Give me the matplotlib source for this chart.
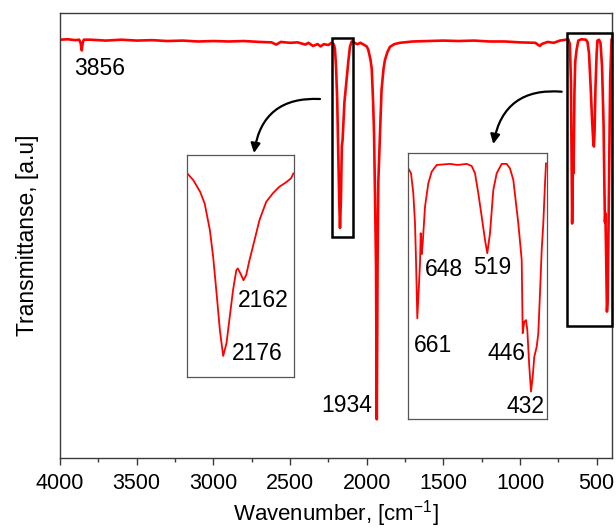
import matplotlib
matplotlib.use('Agg')
import matplotlib.pyplot as plt
from matplotlib.patches import Rectangle, FancyArrowPatch
from matplotlib.ticker import MultipleLocator

plt.rcParams['font.family'] = ['Liberation Sans', 'DejaVu Sans']
plt.rcParams['mathtext.default'] = 'regular'

# ---------------- data ----------------
wn_main = [4000, 3950, 3900, 3875, 3865, 3858, 3852, 3845, 3800, 3700, 3600, 3500,
           3400, 3300, 3200, 3100, 3000, 2900, 2800, 2700, 2620, 2590, 2560, 2500,
           2450, 2400, 2380, 2350, 2320, 2300, 2280, 2250, 2230, 2215, 2207, 2200,
           2192, 2185, 2179, 2174, 2168, 2162, 2157, 2145, 2131, 2120, 2109, 2098,
           2080, 2060, 2040, 2020, 2000, 1990, 1975, 1967, 1958, 1952, 1945, 1939,
           1934, 1929, 1924, 1913, 1903, 1890, 1881, 1865, 1848, 1820, 1783, 1700,
           1600, 1500, 1400, 1300, 1200, 1100, 1000, 900, 880, 870, 860, 820, 780,
           740, 700, 685, 675, 668, 663, 660, 657, 654, 651, 648, 645, 640, 631,
           620, 600, 570, 560, 550, 540, 530, 522, 518, 514, 508, 500, 495, 485,
           475, 465, 455, 450, 446, 443, 438, 433, 428, 420, 412, 403]
t_main = [94.0, 94.1, 93.9, 94.0, 93.2, 91.6, 93.3, 94.0, 94.0, 93.8, 94.0, 93.8,
          93.9, 93.7, 93.8, 93.6, 93.7, 93.6, 93.7, 93.5, 93.4, 92.9, 93.5, 93.3,
          93.4, 92.9, 93.3, 92.6, 93.0, 92.5, 93.0, 92.8, 93.3, 93.0, 92.0, 88.0,
          80.4, 68.0, 58.0, 51.7, 58.0, 70.0, 71.5, 80.0, 85.0, 89.0, 92.4, 93.6,
          93.3, 93.0, 93.3, 92.9, 92.5, 91.8, 89.5, 87.5, 80.0, 73.0, 58.0, 43.0,
          8.7, 43.0, 62.0, 73.0, 82.7, 87.5, 89.4, 91.2, 92.4, 93.0, 93.3, 93.6,
          93.7, 93.8, 93.7, 93.8, 93.6, 93.6, 93.4, 93.3, 92.8, 92.6, 93.0, 93.5, 93.3,
          93.8, 94.0, 94.1, 93.0, 85.0, 65.0, 52.7, 60.0, 69.0, 64.0, 72.0, 82.0, 89.0, 91.7,
          93.8, 94.1, 94.0, 93.5, 91.0, 84.0, 76.0, 71.0, 70.0, 73.0, 83.0, 91.0, 93.8, 94.0,
          93.3, 88.0, 75.0, 62.0, 53.0, 55.0, 45.0, 32.9, 36.0, 60.0, 85.0, 94.0]

wn_in1 = [2201, 2196.6, 2192, 2189, 2185.5, 2183.3, 2181, 2178.8, 2176.6, 2174.4,
          2172.2, 2170, 2167.8, 2166.8, 2165, 2163, 2161.2, 2159, 2155.6, 2152.3,
          2147.8, 2143.4, 2139, 2134.5, 2131.2, 2129.6]
t_in1 = [92.0, 88.7, 83.4, 78.2, 66.2, 54.1, 37.6, 21.1, 9.5, 15.1,
         27.1, 39.1, 48.1, 48.9, 46.6, 43.6, 45.9, 52.6, 61.7, 70.7,
         78.9, 82.7, 85.7, 87.7, 89.5, 91.7]

wn_in2 = [678.8, 673.4, 668.8, 665.4, 663.4, 660.8, 658, 655.4, 654, 652, 650,
          645.4, 638.8, 632, 622, 595.4, 580, 562, 552, 545.4, 538.8, 532, 525.4,
          520.8, 515.4, 508.8, 502, 492, 482, 475.4, 468.8, 458.8, 452, 450,
          446.8, 443.4, 440.8, 436.8, 433.4, 430, 426.8, 422, 418.8, 415.4, 412,
          408.8, 405.4, 403.4]
t_in2 = [94.1, 92.3, 84.8, 73.5, 59.8, 37.9, 48.5, 58.5, 69.8, 62.0, 66.0,
         79.7, 88.5, 92.9, 95.4, 95.8, 95.4, 95.8, 95.0, 92.3, 84.8, 76.0, 67.3,
         62.3, 69.8, 86.0, 92.3, 95.8, 95.8, 94.1, 89.8, 73.5, 59.8, 32.3,
         36.6, 37.2, 33.5, 19.7, 10.4, 16.0, 23.5, 27.2, 32.3, 47.3, 63.5,
         73.5, 88.5, 96.0]

main_peaks = ['3856', '1934']
in1_peaks = ['2162', '2176']
in2_peaks = ['648', '519', '661', '446', '432']
x_ticks = [4000, 3500, 3000, 2500, 2000, 1500, 1000, 500]

# ---------------- figure ----------------
W, H = 616, 528
fig = plt.figure(figsize=(W / 100, H / 100), dpi=100)


def fx(px):
    return px / W


def fy(py):
    return 1 - py / H


RED = '#ff0000'
SPINE = '#3a3a3a'
LFS = 16.5

ax = fig.add_axes([fx(60), fy(458), fx(612) - fx(60), fy(13) - fy(458)])
ax.plot(wn_main, t_main, color=RED, lw=1.9, solid_joinstyle='round')
ax.set_xlim(4000, 400)
ax.set_ylim(0, 100)
ax.set_xticks(x_ticks)
ax.xaxis.set_minor_locator(MultipleLocator(250))
ax.tick_params(axis='x', which='major', direction='out', length=5, width=1,
               color=SPINE, labelsize=15.5, pad=6)
ax.tick_params(axis='x', which='minor', direction='out', length=3, width=1,
               color=SPINE)
ax.tick_params(axis='y', which='both', left=False, labelleft=False)
for s in ax.spines.values():
    s.set_color(SPINE)
    s.set_linewidth(1.0)
ax.set_xlabel('Wavenumber, [cm$^{-1}$]', fontsize=16, labelpad=3)
ax.set_ylabel('Transmittanse, [a.u]', fontsize=16.5, labelpad=15)

# highlight rectangles
ax.add_patch(Rectangle((2091, 49.6), 2224 - 2091, 94.4 - 49.6, fill=False,
                       ec='black', lw=1.8, zorder=5))
ax.add_patch(Rectangle((400, 29.7), 696 - 400, 95.4 - 29.7, fill=False,
                       ec='black', lw=1.8, zorder=5, clip_on=False))

# main labels
ax.text(3909, 86.1, main_peaks[0], fontsize=LFS, ha='left', va='baseline')
ax.text(2293, 10.4, main_peaks[1], fontsize=LFS, ha='left', va='baseline')

# inset 1
ax1 = fig.add_axes([fx(186.7), fy(377), fx(294.3) - fx(186.7), fy(155) - fy(377)])
ax1.plot(wn_in1, t_in1, color=RED, lw=1.3, solid_joinstyle='round')
ax1.set_xlim(2201, 2129)
ax1.set_ylim(0, 100)
ax1.set_xticks([])
ax1.set_yticks([])
for s in ax1.spines.values():
    s.set_color('#555555')
    s.set_linewidth(0.9)
ax1.text(2166.6, 31.6, in1_peaks[0], fontsize=LFS, ha='left', va='baseline')
ax1.text(2171.0, 7.5, in1_peaks[1], fontsize=LFS, ha='left', va='baseline')

# inset 2
ax2 = fig.add_axes([fx(407.7), fy(419.3), fx(546.7) - fx(407.7), fy(152.7) - fy(419.3)])
ax2.plot(wn_in2, t_in2, color=RED, lw=1.3, solid_joinstyle='round')
ax2.set_xlim(680, 402)
ax2.set_ylim(0, 100)
ax2.set_xticks([])
ax2.set_yticks([])
for s in ax2.spines.values():
    s.set_color('#555555')
    s.set_linewidth(0.9)
in2_pos = [(645.4, 53.8), (548.8, 54.5), (667.4, 25.4), (520.8, 22.2), (483.4, 2.5)]
for lab, (xx, yy) in zip(in2_peaks, in2_pos):
    ax2.text(xx, yy, lab, fontsize=LFS, ha='left', va='baseline')

# curved arrows
for (x0, y0), (x1, y1) in [((320, 99), (254, 153)), ((561.7, 91.7), (493.3, 144))]:
    arr = FancyArrowPatch((fx(x0), fy(y0)), (fx(x1), fy(y1)),
                          transform=fig.transFigure,
                          connectionstyle='arc3,rad=0.45',
                          arrowstyle='-|>', mutation_scale=14,
                          lw=1.6, color='black', shrinkA=0, shrinkB=0)
    fig.add_artist(arr)

fig.savefig('out.png', dpi=100)
